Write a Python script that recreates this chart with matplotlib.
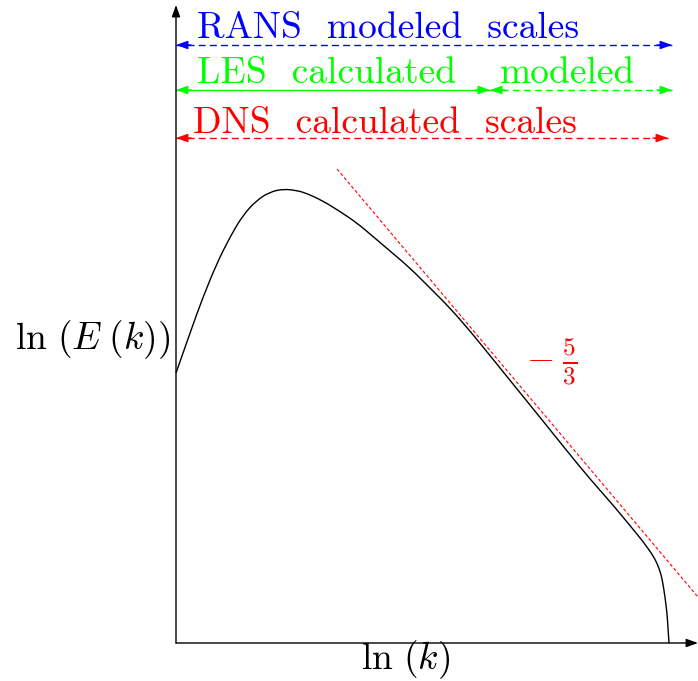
import matplotlib
matplotlib.use("Agg")
import matplotlib.pyplot as plt
from matplotlib.path import Path
from matplotlib.patches import PathPatch

plt.rcParams["mathtext.fontset"] = "cm"
plt.rcParams["font.family"] = "serif"
plt.rcParams["font.serif"] = ["cmr10"]

# schematic energy spectrum, ln(k) vs ln(E(k))
lnk = [0.00, 0.28, 0.54, 0.82, 1.08, 1.34, 1.62, 1.88, 2.14, 2.42, 2.62,
       2.94, 3.28, 3.62, 3.94, 4.28, 4.68, 5.08, 5.48, 5.88, 6.32, 6.82,
       7.34, 7.82, 8.28, 8.74, 9.12, 9.34, 9.52, 9.62, 9.70, 9.74, 9.78,
       9.82, 9.84, 9.86]
lnE = [5.40, 6.20, 6.92, 7.60, 8.12, 8.56, 8.86, 9.02, 9.08, 9.05, 8.99,
       8.84, 8.63, 8.40, 8.13, 7.84, 7.50, 7.10, 6.70, 6.24, 5.70, 5.08,
       4.44, 3.84, 3.28, 2.76, 2.30, 2.03, 1.78, 1.60, 1.38, 1.18, 0.92,
       0.60, 0.30, 0.00]

# -5/3 reference slope line
slope_k = [3.22, 10.44]
slope_E = [9.48, 0.92]

# scale ranges
k_end = 9.92
les_cut = 6.28
rans_y, les_y, dns_y = 11.96, 11.06, 10.10

fig = plt.figure(figsize=(6.98, 6.81), dpi=100)
ax = fig.add_axes([0, 0, 1, 1])
ax.set_xlim(-3.52, 10.44)
ax.set_ylim(-0.76, 12.86)
ax.axis("off")

# axes with arrow heads
head = dict(arrowstyle="-|>,head_length=0.7,head_width=0.25", color="black",
            lw=1.0, shrinkA=0, shrinkB=0)
ax.annotate("", xy=(0, 12.76), xytext=(0, 0), arrowprops=head)
ax.annotate("", xy=(10.44, 0), xytext=(0, 0), arrowprops=head)

# smooth the spectrum with quadratic bezier pieces through the midpoints
pts = list(zip(lnk, lnE))
verts = [pts[0]]
codes = [Path.MOVETO]
for i in range(1, len(pts) - 2):
    mid = ((pts[i][0] + pts[i + 1][0]) / 2, (pts[i][1] + pts[i + 1][1]) / 2)
    verts += [pts[i], mid]
    codes += [Path.CURVE3, Path.CURVE3]
verts += [pts[-2], pts[-1]]
codes += [Path.CURVE3, Path.CURVE3]
ax.add_patch(PathPatch(Path(verts, codes), fill=False, edgecolor="black",
                       lw=1.0))

ax.plot(slope_k, slope_E, color="red", lw=0.8, ls=(0, (3, 2)))


def span(x0, x1, y, color, dashed):
    ls = (0, (5, 3)) if dashed else "-"
    ax.plot([x0, x1], [y, y], color=color, lw=1.0, ls=ls)
    tip = dict(arrowstyle="-|>,head_length=0.7,head_width=0.25", color=color,
               lw=1.0, shrinkA=0, shrinkB=0)
    ax.annotate("", xy=(x0, y), xytext=(x0 + 0.3, y), arrowprops=tip)
    ax.annotate("", xy=(x1, y), xytext=(x1 - 0.3, y), arrowprops=tip)


span(0, k_end, rans_y, "blue", True)
span(0, les_cut, les_y, "#00ff00", False)
span(les_cut, k_end, les_y, "#00ff00", True)
span(0, 9.84, dns_y, "red", True)

fs = 27
ax.text(0.42, 12.10, "RANS  modeled  scales", color="blue", fontsize=fs,
        va="baseline", ha="left")
ax.text(0.42, 11.20, "LES  calculated", color="#00ff00", fontsize=fs,
        va="baseline", ha="left")
ax.text(6.48, 11.20, "modeled", color="#00ff00", fontsize=fs,
        va="baseline", ha="left")
ax.text(0.34, 10.20, "DNS  calculated  scales", color="red", fontsize=fs,
        va="baseline", ha="left")

ax.text(-0.12, 6.06, r"$\ln\,(E\;(k))$", fontsize=fs, ha="right", va="center")
ax.text(4.6, -0.34, r"$\ln\,(k)$", fontsize=fs, ha="center", va="center")
ax.text(7.52, 5.62, r"$-\;\frac{5}{3}$", fontsize=26, color="red",
        ha="center", va="center")

fig.savefig("out.png", dpi=100)
